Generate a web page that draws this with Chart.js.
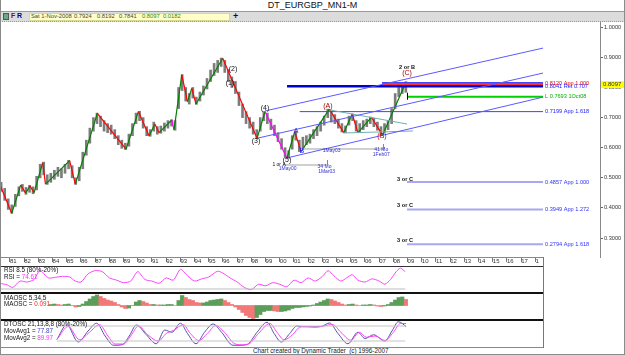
<!DOCTYPE html>
<html>
<head>
<meta charset="utf-8">
<script src="https://cdn.jsdelivr.net/npm/chart.js@4.4.1/dist/chart.umd.min.js"></script>
<style>
body{margin:0;width:625px;height:355px;overflow:hidden;background:#fff;position:relative;font-family:"Liberation Sans",Arial,sans-serif}
.a{position:absolute;white-space:nowrap}
#frame{left:0;top:0;width:625px;height:355px;box-sizing:border-box;border:1px solid #8a8a8a;border-top:none;pointer-events:none}
#title{left:0;top:0;width:625px;height:11px;text-align:center;font-size:9px;line-height:11px;color:#111}
#tool{left:0;top:11px;width:625px;height:9px;background:#dcdcdc;border-top:1px solid #9a9a9a;border-bottom:1px dotted #999}
#info{left:29px;top:13px;width:199px;height:6px;background:#ffffc8;border:1px solid #d8d890}
.t6{font-size:5.8px;line-height:7px;color:#444}
.hl{height:1px;background:#888}
.pl{font-size:6.3px;line-height:7px;color:#111}
</style>
</head>
<body>
<div class="a" id="title">DT_EURGBP_MN1-M</div>
<div class="a" id="tool"></div>
<div class="a" style="left:3px;top:13px;width:4px;height:5px;background:#6a8;border:1px solid #555"></div>
<div class="a" style="left:11px;top:12px;font-size:7px;font-weight:bold;color:#a00000">F</div>
<div class="a" style="left:17px;top:12px;font-size:7px;font-weight:bold;color:#0000a0">R</div>
<div class="a" id="info"></div>
<div class="a t6" style="left:31px;top:13px">Sat 1-Nov-2008</div>
<div class="a t6" style="left:74px;top:13px">0.7924</div>
<div class="a t6" style="left:97px;top:13px">0.8192</div>
<div class="a t6" style="left:119px;top:13px">0.7841</div>
<div class="a t6" style="left:142px;top:13px;color:#209020">0.8097</div>
<div class="a t6" style="left:163px;top:13px;color:#209020">0.0182</div>
<div class="a" style="left:233px;top:11px;font-size:9px;font-weight:bold;color:#111">+</div>

<canvas class="a" id="main" width="625" height="243" style="left:0;top:22px"></canvas>
<canvas class="a" id="rsi" width="543" height="25" style="left:0;top:267px"></canvas>
<canvas class="a" id="maosc" width="543" height="25" style="left:0;top:294px"></canvas>
<canvas class="a" id="dtosc" width="543" height="26" style="left:0;top:321px"></canvas>

<div class="a hl" style="left:0;top:257px;width:543px"></div>
<div class="a" style="left:0;top:266px;width:543px;height:1px;background:#333"></div>
<div class="a" style="left:0;top:292px;width:543px;height:2px;background:#111"></div>
<div class="a" style="left:0;top:319px;width:543px;height:2px;background:#111"></div>
<div class="a hl" style="left:0;top:347px;width:543px"></div>
<div class="a" style="left:543px;top:257px;width:1px;height:91px;background:#777"></div>

<div class="a pl" style="left:4px;top:266px">RSI 8.5 (80%-20%)</div>
<div class="a pl" style="left:4px;top:273px">RSI = <span style="color:#ff30ff">74.61</span></div>
<div class="a pl" style="left:4px;top:294px">MAOSC 5,34,5</div>
<div class="a pl" style="left:4px;top:300px">MAOSC = <span style="color:#ff2020">0.091</span></div>
<div class="a pl" style="left:4px;top:320px">DTOSC 21,13,8,8 (80%-20%)</div>
<div class="a pl" style="left:4px;top:327px">MovAvg1 = <span style="color:#4040c0">77.87</span></div>
<div class="a pl" style="left:4px;top:334px">MovAvg2 = <span style="color:#ff30ff">89.97</span></div>
<div class="a pl" style="left:253px;top:347px;color:#222">Chart created by Dynamic Trader &nbsp;(c) 1996-2007</div>
<div class="a" id="frame"></div>

<script>
// time axis (years) shared by all panels
const START = 1980.296;
const END_PANEL = 2018.535;
const END_MAIN = 2022.55;
const xTickYears = [];
for (let yr = 1981; yr <= 2018; yr++) xTickYears.push(yr);
const yTicks = [0.3, 0.4, 0.5, 0.6, 0.7, 0.8, 0.9, 1.0];

// quarterly price bars, first quarter centred on 1980.375
const qStart = 1980.375;
const priceLow = [
  0.455,0.425,0.395,0.382,0.405,0.44,0.455,0.445,0.452,0.447,
  0.46,0.50,0.51,0.478,0.485,0.495,0.505,0.50,0.515,0.53,
  0.50,0.478,0.49,0.53,0.575,0.615,0.655,0.68,0.67,0.655,
  0.65,0.645,0.63,0.61,0.598,0.594,0.605,0.64,0.68,0.69,
  0.665,0.64,0.638,0.655,0.645,0.648,0.655,0.665,0.672,0.658,
  0.73,0.79,0.755,0.745,0.765,0.744,0.755,0.775,0.795,0.82,
  0.84,0.85,0.87,0.85,0.82,0.80,0.78,0.74,0.70,0.68,
  0.665,0.645,0.63,0.655,0.69,0.68,0.66,0.64,0.62,0.595,
  0.57,0.565,0.595,0.625,0.587,0.60,0.61,0.615,0.63,0.64,
  0.655,0.675,0.70,0.685,0.68,0.665,0.652,0.65,0.675,0.69,
  0.655,0.65,0.66,0.67,0.68,0.67,0.658,0.642,0.65,0.66,
  0.68,0.73,0.77,0.78,0.7841
];
const priceHigh = [
  0.485,0.465,0.43,0.41,0.445,0.47,0.478,0.468,0.475,0.47,
  0.505,0.545,0.552,0.51,0.515,0.525,0.535,0.53,0.545,0.558,
  0.54,0.50,0.535,0.585,0.625,0.665,0.70,0.715,0.705,0.69,
  0.68,0.675,0.66,0.64,0.625,0.615,0.645,0.68,0.715,0.721,
  0.70,0.67,0.66,0.685,0.67,0.672,0.682,0.69,0.693,0.69,
  0.80,0.843,0.80,0.78,0.80,0.768,0.785,0.805,0.83,0.858,
  0.88,0.89,0.898,0.89,0.86,0.835,0.82,0.785,0.745,0.72,
  0.70,0.685,0.66,0.70,0.72,0.715,0.695,0.675,0.65,0.63,
  0.60,0.59,0.64,0.655,0.625,0.635,0.64,0.645,0.66,0.67,
  0.685,0.705,0.728,0.72,0.71,0.695,0.68,0.672,0.705,0.712,
  0.69,0.68,0.69,0.695,0.702,0.698,0.685,0.67,0.68,0.69,
  0.73,0.78,0.80,0.815,0.8192
];

// swing pivots
const zigYears = [1980.30,1981.12,1981.75,1982.10,1982.40,1982.70,1983.30,1983.50,1985.20,1985.60,
  1987.15,1989.17,1990.04,1990.80,1991.20,1991.50,1992.40,1992.55,1993.10,1993.50,
  1993.80,1994.10,1995.98,1998.40,1998.96,2000.50,2001.05,2001.50,2003.49,2004.50,
  2005.10,2005.50,2006.45,2007.24,2008.90];
const zigPrices = [0.476,0.382,0.476,0.449,0.473,0.451,0.550,0.479,0.557,0.479,
  0.714,0.595,0.720,0.639,0.679,0.650,0.692,0.659,0.842,0.753,
  0.797,0.745,0.897,0.631,0.720,0.565,0.653,0.587,0.728,0.650,
  0.712,0.650,0.701,0.642,0.8192];
const magentaSegs = [16, 24];

// channel lines (year, price) -> (year, price)
const chanX0 = [1998.96, 1998.46, 2000.51];
const chanY0 = [0.722, 0.632, 0.566];
const chanX1 = [2018.54, 2018.54, 2018.54];
const chanY1 = [0.931, 0.848, 0.768];

// converging triangle lines
const triX0 = [2003.54, 2004.45];
const triY0 = [0.7253, 0.6488];
const triX1 = [2008.96, 2009.38];
const triY1 = [0.6787, 0.6555];

// projection levels
const levelValues = [0.8165, 0.8120, 0.8041, 0.7693, 0.7199, 0.4857, 0.3949, 0.2794];
const levelFrom = [2007.2, 2007.2, 2000.51, 2008.96, 2001.4, 2008.96, 2008.96, 2008.96];
const levelTo = 2018.54;
const levelText = ['', '0.8120 App 1.000', '0.8041 Ret 0.707', 'L 0.7693 1Oct08', '0.7199 App 1.618',
  '0.4857 App 1.000', '0.3949 App 1.272', '0.2794 App 1.618'];
const levelStyle = [
  {c:'#4040ff', w:1, t:'#2020ff'},
  {c:'#ff3030', w:2.5, t:'#ff0000'},
  {c:'#0000d0', w:2.5, t:'#2020ff'},
  {c:'#00d000', w:2, t:'#00b000'},
  {c:'#4040ff', w:1, t:'#2020ff'},
  {c:'#a8a8f0', w:2, t:'#3030ff'},
  {c:'#a8a8f0', w:2, t:'#3030ff'},
  {c:'#a8a8f0', w:2, t:'#3030ff'}
];

// wave / text labels (year, price)
const waveText = ['(2)','(1)','(3)','(4)','(5)','A','B','(A)','(B)','2 or B','(C)','3 or C','3 or C','3 or C'];
const waveX = [1996.70,1996.49,1998.32,1998.96,2000.51,2001.14,2001.56,2003.39,2007.20,2008.96,2008.96,2008.82,2008.82,2008.82];
const waveY = [0.861,0.815,0.622,0.733,0.559,0.655,0.589,0.738,0.639,0.868,0.848,0.496,0.407,0.292];
const waveColor = ['#111','#111','#111','#111','#111','#2020ff','#2020ff','#a00000','#d00000','#111','#a00000','#111','#111','#111'];

// time cycle bars
const cycX0 = [2000.22, 2001.63];
const cycX1 = [2003.32, 2007.27];
const cycY = [0.5425, 0.5957];
const cycText = ['1 or A','1May00','34 Mo','1Mar03','1May03','41 Mo','1Feb07'];
const cycTX = [1999.95, 2000.55, 2003.15, 2003.3, 2003.65, 2007.15, 2007.15];
const cycTY = [0.5435, 0.532, 0.537, 0.521, 0.589, 0.592, 0.577];
const cycTColor = ['#111','#3030d0','#3030d0','#3030d0','#3030d0','#3030d0','#3030d0'];

const lastClose = 0.8097;

// indicators
const rsiYears = [1980.3,1980.8,1981.2,1981.7,1982.2,1982.7,1983.1,1983.7,1984.2,1984.7,1985.2,1985.6,1986.0,1986.5,1987.0,1987.5,
  1988.0,1988.5,1989.0,1989.5,1990.0,1990.5,1991.0,1991.5,1992.0,1992.5,1993.0,1993.5,1994.0,1994.5,1995.0,1995.6,
  1996.0,1996.5,1997.0,1997.5,1998.0,1998.5,1999.0,1999.5,2000.0,2000.5,2001.0,2001.5,2002.0,2002.5,2003.0,2003.4,
  2003.8,2004.3,2004.7,2005.1,2005.5,2006.0,2006.5,2007.0,2007.4,2007.8,2008.2,2008.5,2008.83];
const rsiValues = [38,33,25,45,42,50,78,55,57,60,58,45,42,68,78,75,
  55,48,40,45,75,50,45,38,55,48,82,62,45,52,58,76,
  70,55,42,25,18,35,30,40,35,27,48,40,55,45,60,78,
  62,45,55,65,48,42,52,45,35,50,75,86,74.61];

const maoscStart = 1983.875;
const maoscValues = [
  0.015,0.022,0.015,0.008,0.015,0.022,0.002,-0.022,-0.015,0.022,
  0.06,0.098,0.135,0.158,0.135,0.105,0.082,0.068,0.045,0.015,
  -0.022,-0.045,-0.038,0.0,0.052,0.075,0.06,0.038,0.015,0.015,
  0.008,0.008,0.008,0.015,0.015,0.0,0.075,0.15,0.12,0.09,
  0.075,0.045,0.038,0.038,0.052,0.075,0.082,0.09,0.098,0.075,
  0.045,0.015,-0.022,-0.06,-0.105,-0.15,-0.18,-0.195,-0.18,-0.135,
  -0.09,-0.075,-0.075,-0.082,-0.09,-0.09,-0.082,-0.068,-0.045,-0.03,
  -0.03,-0.022,-0.015,-0.008,0.008,0.03,0.052,0.075,0.098,0.09,
  0.068,0.045,0.022,0.008,0.015,0.022,0.008,0.0,0.008,0.008,
  0.015,0.008,-0.008,-0.015,-0.008,0.015,0.045,0.082,0.12,0.128,
  0.091
];

const dt1Years = [1984.3,1985.0,1985.8,1986.5,1987.1,1987.7,1988.3,1988.9,1989.4,1989.9,1990.6,1991.3,1991.9,1992.4,
  1993.0,1993.5,1994.1,1994.7,1995.3,1995.9,1996.7,1997.2,1997.7,1998.4,1999.1,1999.6,2000.1,2000.7,
  2001.2,2001.7,2002.3,2002.9,2003.5,2004.1,2004.8,2005.5,2006.0,2006.6,2007.4,2007.9,2008.35,2008.9];
const dt1Values = [26,85,16,60,91,40,3,5,40,84,45,9,64,55,
  91,50,9,55,88,55,3,3,6,55,95,50,16,50,
  80,77,77,78,92,50,9,55,30,45,20,60,97,77.87];
const dt2Years = [1984.3,1985.1,1985.9,1986.6,1987.3,1987.9,1988.4,1989.0,1989.5,1990.05,1990.7,1991.45,1992.0,1992.5,
  1993.2,1993.7,1994.3,1994.9,1995.5,1996.1,1996.8,1997.3,1997.8,1998.5,1999.3,1999.8,2000.3,2000.9,
  2001.4,2001.9,2002.5,2003.1,2003.7,2004.3,2005.0,2005.6,2006.1,2006.7,2007.4,2008.0,2008.5,2008.9];
const dt2Values = [26,78,25,55,85,40,8,8,40,80,45,20,50,62,
  85,50,22,50,82,55,10,5,8,50,90,55,25,45,
  75,78,75,80,86,55,23,55,35,40,22,55,90,89.97];
const dtBands = [80, 20];

const FONT = '"Liberation Sans", Arial, sans-serif';
const pts = (xs, ys) => xs.map((x, i) => ({x: x, y: ys[i]}));
const seg = (x0, y0, x1, y1) => [{x: x0, y: y0}, {x: x1, y: y1}];
const plain = {pointRadius: 0, fill: false, tension: 0};

// ---------- main price chart ----------
const datasets = [];
datasets.push({
  type: 'bar',
  data: priceHigh.map((h, i) => ({x: qStart + i * 0.25, y: [priceLow[i], h]})),
  backgroundColor: '#7c7c7c', barThickness: 2, order: 10
});
chanX0.forEach((x0, i) => datasets.push({...plain, data: seg(x0, chanY0[i], chanX1[i], chanY1[i]), borderColor: '#5a5aff', borderWidth: 1}));
triX0.forEach((x0, i) => datasets.push({...plain, data: seg(x0, triY0[i], triX1[i], triY1[i]), borderColor: '#70b0b0', borderWidth: 1}));
cycX0.forEach((x0, i) => datasets.push({...plain, data: seg(x0, cycY[i], cycX1[i], cycY[i]), borderColor: '#a0a0a0', borderWidth: 1}));
levelValues.forEach((v, i) => datasets.push({...plain, data: seg(levelFrom[i], v, levelTo, v), borderColor: levelStyle[i].c, borderWidth: levelStyle[i].w}));
datasets.push({
  ...plain, data: pts(zigYears, zigPrices), borderWidth: 1.2, borderColor: '#008000',
  segment: {
    borderColor: c => magentaSegs.includes(c.p0DataIndex) ? '#ff00ff' : (c.p1.parsed.y > c.p0.parsed.y ? '#008000' : '#ff0000')
  }
});

const annot = {
  id: 'annot',
  afterDatasetsDraw(chart) {
    const {ctx, scales: {x, y}} = chart;
    ctx.save();
    ctx.textBaseline = 'middle';
    // level labels
    ctx.textAlign = 'left';
    ctx.font = '5.6px ' + FONT;
    levelValues.forEach((v, i) => {
      if (!levelText[i]) return;
      ctx.fillStyle = levelStyle[i].t;
      ctx.fillText(levelText[i], x.getPixelForValue(levelTo) + 2, y.getPixelForValue(v));
    });
    // wave labels
    ctx.textAlign = 'center';
    waveText.forEach((t, i) => {
      ctx.font = (t.length > 3 ? 'bold 5.6px ' : '7px ') + FONT;
      ctx.fillStyle = waveColor[i];
      ctx.fillText(t, x.getPixelForValue(waveX[i]), y.getPixelForValue(waveY[i]));
    });
    // cycle labels and end ticks
    ctx.font = '5px ' + FONT;
    cycText.forEach((t, i) => {
      ctx.fillStyle = cycTColor[i];
      ctx.fillText(t, x.getPixelForValue(cycTX[i]), y.getPixelForValue(cycTY[i]));
    });
    ctx.strokeStyle = '#888';
    ctx.lineWidth = 1;
    cycX1.forEach((x1, i) => {
      const px = Math.round(x.getPixelForValue(x1)) + 0.5, py = y.getPixelForValue(cycY[i]);
      ctx.beginPath(); ctx.moveTo(px, py - 5); ctx.lineTo(px, py + 1); ctx.stroke();
    });
    // low marker at start of green level
    const lx = Math.round(x.getPixelForValue(levelFrom[3])) + 0.5, ly = y.getPixelForValue(levelValues[3]);
    ctx.strokeStyle = '#000';
    ctx.beginPath(); ctx.moveTo(lx, ly - 4); ctx.lineTo(lx, ly + 3); ctx.stroke();
    // last price box on the axis
    const py = y.getPixelForValue(lastClose);
    ctx.fillStyle = '#ffff00';
    ctx.fillRect(x.right + 1, py - 3.5, 24, 7);
    ctx.fillStyle = '#333';
    ctx.textAlign = 'left';
    ctx.font = '6px ' + FONT;
    ctx.fillText(lastClose.toFixed(4), x.right + 3, py);
    ctx.restore();
  }
};

new Chart(document.getElementById('main'), {
  type: 'line',
  data: {datasets},
  options: {
    responsive: false, animation: false, events: [],
    layout: {padding: 0},
    plugins: {legend: {display: false}, tooltip: {enabled: false}},
    scales: {
      x: {
        type: 'linear', min: START, max: END_MAIN, offset: false,
        grid: {drawOnChartArea: false, tickLength: 5, color: '#777', offset: false},
        border: {display: false},
        afterBuildTicks: s => { s.ticks = xTickYears.map(v => ({value: v})); },
        afterFit: s => { s.height = 8; s.paddingLeft = 0; s.paddingRight = 0; },
        ticks: {
          autoSkip: false, maxRotation: 0, align: 'start', padding: -4,
          font: {size: 6, family: FONT}, color: '#333',
          callback: v => v === 2018 ? '1' : String(v % 100).padStart(2, '0')
        }
      },
      y: {
        type: 'linear', position: 'right', min: 0.2369, max: 1.0176,
        grid: {drawOnChartArea: false, tickLength: 3, color: '#666'},
        border: {color: '#888'},
        afterBuildTicks: s => { s.ticks = yTicks.map(v => ({value: v})); },
        afterFit: s => { s.width = 25; s.paddingTop = 0; s.paddingBottom = 0; },
        ticks: {padding: 1, font: {size: 5.6, family: FONT}, color: '#333', callback: v => v.toFixed(4)}
      }
    }
  },
  plugins: [annot]
});

// ---------- indicator panels ----------
function panel(id, ymin, ymax, sets) {
  new Chart(document.getElementById(id), {
    type: 'line',
    data: {datasets: sets},
    options: {
      responsive: false, animation: false, events: [],
      layout: {padding: 0},
      plugins: {legend: {display: false}, tooltip: {enabled: false}},
      scales: {
        x: {type: 'linear', min: START, max: END_PANEL, display: false, offset: false},
        y: {type: 'linear', min: ymin, max: ymax, display: false}
      }
    }
  });
}

const lastYear = rsiYears[rsiYears.length - 1];
panel('rsi', 10.5, 89.5, [
  {...plain, data: seg(START, 20, lastYear, 20), borderColor: '#bdbdbd', borderWidth: 1},
  {...plain, data: pts(rsiYears, rsiValues), borderColor: '#ff40ff', borderWidth: 1, tension: 0.25}
]);

panel('maosc', -0.2025, 0.1725, [
  {
    type: 'bar',
    data: maoscValues.map((v, i) => ({x: maoscStart + i * 0.25, y: v})),
    barPercentage: 1, categoryPercentage: 1,
    backgroundColor: c => {
      const i = c.dataIndex;
      const prev = i > 0 ? maoscValues[i - 1] : maoscValues[i];
      return maoscValues[i] >= prev ? '#5a9e5a' : '#f27878';
    }
  }
]);

panel('dtosc', -4, 100, [
  {...plain, data: seg(dt1Years[0], dtBands[0], lastYear, dtBands[0]), borderColor: '#c4c4c4', borderWidth: 1},
  {...plain, data: seg(dt1Years[0], dtBands[1], lastYear, dtBands[1]), borderColor: '#c4c4c4', borderWidth: 1},
  {...plain, data: pts(dt2Years, dt2Values), borderColor: '#ff40ff', borderWidth: 1, cubicInterpolationMode: 'monotone'},
  {...plain, data: pts(dt1Years, dt1Values), borderColor: '#5050a8', borderWidth: 1, cubicInterpolationMode: 'monotone'}
]);
</script>
</body>
</html>
